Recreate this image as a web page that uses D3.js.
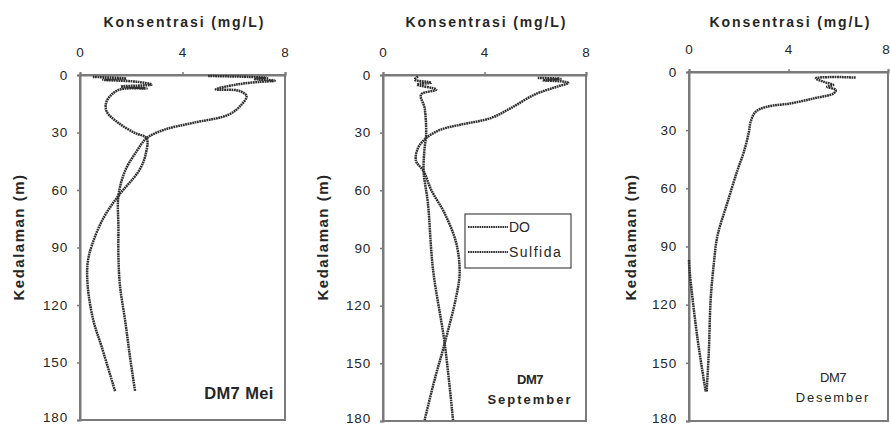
<!DOCTYPE html>
<html>
<head>
<meta charset="utf-8">
<script src="https://cdn.jsdelivr.net/npm/d3@7"></script>
<style>
  body { margin: 0; background: #fff; }
  svg { display: block; font-family: "Liberation Sans", Arial, sans-serif; }
</style>
</head>
<body>
<svg id="chart" width="890" height="426"></svg>
<script>
// tick labels shared by the three panels
const xTicks = [0, 4, 8];
const yTicks = [0, 30, 60, 90, 120, 150, 180];
const legendNames = ["DO", "Sulfida"];

// DM7 Mei : [konsentrasi, kedalaman]
const meiDO = [[5.0, 0.5], [6.6, 1.0], [7.3, 1.5], [6.8, 2.0], [7.6, 3.0], [7.0, 3.6], [6.1, 5.0], [5.3, 7.5],
  [6.2, 8.2], [6.5, 11], [6.3, 15.5], [5.8, 20.7], [4.4, 25], [3.3, 28.5], [2.6, 33], [2.2, 40], [1.76, 50],
  [1.5, 63], [1.5, 80], [1.5, 95], [1.56, 110], [1.76, 128], [1.95, 147], [2.15, 165]];
const meiSulfida = [[0.5, 1.0], [1.8, 1.8], [0.9, 2.5], [2.2, 3.5], [2.8, 5.0], [1.6, 6.0], [2.6, 7.0], [1.5, 7.8],
  [1.04, 13.7], [1.04, 19], [1.5, 25], [2.15, 30.3], [2.6, 33], [2.55, 42], [2.3, 50], [1.5, 63], [0.9, 75],
  [0.46, 89], [0.3, 98], [0.3, 110], [0.52, 128], [0.85, 142], [1.37, 165]];

// DM7 September
const sepDO = [[6.1, 1.5], [7.0, 2.0], [6.3, 2.8], [7.1, 3.4], [7.3, 4.2], [6.9, 5.9], [5.97, 10.2], [5.04, 17.2],
  [4.25, 22.4], [3.07, 25.8], [2.28, 28.4], [1.7, 32.8], [1.38, 38], [1.3, 44.7], [1.6, 50], [1.9, 59.8],
  [2.43, 72], [2.89, 87.6], [3.02, 103], [2.89, 115], [2.43, 139.6], [2.03, 158.7], [1.64, 179.5]];
const sepSulfida = [[1.38, 0.8], [1.25, 2.4], [1.9, 4.0], [1.35, 5.0], [2.1, 7.6], [1.5, 10.2], [1.64, 17.2],
  [1.7, 31], [1.64, 38], [1.6, 50], [1.77, 66.7], [1.97, 101], [2.43, 139.6], [2.76, 179.5]];

// DM7 Desember
const desDO = [[6.7, 2.9], [5.7, 2.6], [5.1, 3.3], [5.4, 5.0], [5.8, 6.7], [5.55, 7.6], [5.9, 9.3], [5.82, 11],
  [5.02, 13.6], [4.08, 16.2], [3.14, 17.9], [2.68, 20.5], [2.48, 25.6], [2.41, 30.8], [2.21, 41], [1.94, 51],
  [1.54, 67.5], [1.14, 84.7], [1.0, 98.6], [0.87, 117.5], [0.8, 143.4], [0.71, 164.8]];
const desSulfida = [[0.0, 97], [0.02, 102], [0.33, 136.4], [0.67, 164.8]];

const svg = d3.select("#chart"); // Select the SVG element
const ink = "#262626";
const axisGrey = "#7a7a7a";
const lineInk = "#303030";

const line = d3.line().curve(d3.curveCatmullRom.alpha(0.5));

// one panel = one small depth profile plot
const drawPanel = (p) => {
    const x = d3.scaleLinear().domain([0, 8]).range([p.left, p.right]);
    const y = d3.scaleLinear().domain([0, 180]).range([p.top, p.bottom]);
    const g = svg.append("g");

    // frame
    g.append("rect")
        .attr("x", p.left).attr("y", p.top)
        .attr("width", p.right - p.left).attr("height", p.bottom - p.top)
        .attr("fill", "none").attr("stroke", axisGrey).attr("stroke-width", 2);

    // top axis
    const xa = g.append("g")
        .attr("transform", `translate(0,${p.top})`)
        .call(d3.axisTop(x).tickValues(xTicks).tickSize(3).tickPadding(15).tickFormat(d3.format("d")));
    // left axis
    const ya = g.append("g")
        .attr("transform", `translate(${p.left},0)`)
        .call(d3.axisLeft(y).tickValues(yTicks).tickSize(3).tickPadding(9).tickFormat(d3.format("d")));
    [xa, ya].forEach((a) => {
        a.select(".domain").attr("stroke", axisGrey).attr("stroke-width", 2);
        a.selectAll(".tick line").attr("stroke", axisGrey).attr("stroke-width", 1.5);
        a.selectAll("text").attr("font-size", 13.5).attr("letter-spacing", 0.8).attr("fill", ink);
    });
    // keep the last labels inside the picture
    ya.selectAll(".tick").filter((d) => d === 180).select("text").attr("dy", "0.1em");
    if (p.right > 880) {
        xa.selectAll(".tick").filter((d) => d === 8).select("text")
            .attr("text-anchor", "end").attr("x", 890 - p.right);
    }

    // axis titles
    g.append("text")
        .attr("x", (p.left + p.right) / 2 + 2).attr("y", 27)
        .attr("text-anchor", "middle")
        .attr("font-size", 14).attr("font-weight", "bold").attr("letter-spacing", 1.9)
        .attr("fill", ink)
        .text("Konsentrasi (mg/L)");
    g.append("text")
        .attr("transform", `translate(${p.ytitle},237) rotate(-90)`)
        .attr("text-anchor", "middle")
        .attr("font-size", 15).attr("font-weight", "bold").attr("letter-spacing", 1.5)
        .attr("fill", ink)
        .text("Kedalaman (m)");

    // profiles
    p.series.forEach((s) => {
        g.append("path")
            .attr("d", line(s.map((d) => [x(d[0]), y(d[1])])))
            .attr("fill", "none")
            .attr("stroke", lineInk)
            .attr("stroke-width", 2.5)
            .attr("stroke-dasharray", "1.8,0.6");
    });

    // station label
    p.label.forEach((t, i) => {
        g.append("text")
            .attr("x", p.labelX).attr("y", p.labelY + i * 20)
            .attr("text-anchor", "middle")
            .attr("font-size", t.size).attr("font-weight", t.bold ? "bold" : "normal")
            .attr("letter-spacing", t.spacing)
            .attr("fill", ink)
            .text(t.text);
    });
    return { x, y };
};

drawPanel({
    left: 80, right: 285, top: 75, bottom: 420, ytitle: 24,
    series: [meiDO, meiSulfida],
    labelX: 239, labelY: 399,
    label: [{ text: "DM7 Mei", size: 16.5, bold: true, spacing: 0.4 }]
});

drawPanel({
    left: 383, right: 586, top: 75, bottom: 421, ytitle: 328,
    series: [sepDO, sepSulfida],
    labelX: 530, labelY: 384,
    label: [{ text: "DM7", size: 13, bold: true, spacing: -0.5 },
            { text: "September", size: 13, bold: true, spacing: 2 }]
});

drawPanel({
    left: 689, right: 888, top: 72, bottom: 421, ytitle: 636,
    series: [desDO, desSulfida],
    labelX: 833, labelY: 382,
    label: [{ text: "DM7", size: 13, bold: false, spacing: -0.5 },
            { text: "Desember", size: 13, bold: false, spacing: 1.8 }]
});

// legend (only in the September panel)
const legend = svg.append("g").attr("transform", "translate(465,214)");
legend.append("rect")
    .attr("width", 106).attr("height", 54)
    .attr("fill", "#fff").attr("stroke", "#222").attr("stroke-width", 1);
legendNames.forEach((name, i) => {
    const ly = 13 + i * 25;
    legend.append("line")
        .attr("x1", 3).attr("x2", 43).attr("y1", ly).attr("y2", ly)
        .attr("stroke", lineInk).attr("stroke-width", 2).attr("stroke-dasharray", "1.6,0.7");
    legend.append("text")
        .attr("x", 44).attr("y", ly + 5)
        .attr("font-size", 14).attr("letter-spacing", i ? 1.5 : 0)
        .attr("fill", ink)
        .text(name);
});
</script>
</body>
</html>
